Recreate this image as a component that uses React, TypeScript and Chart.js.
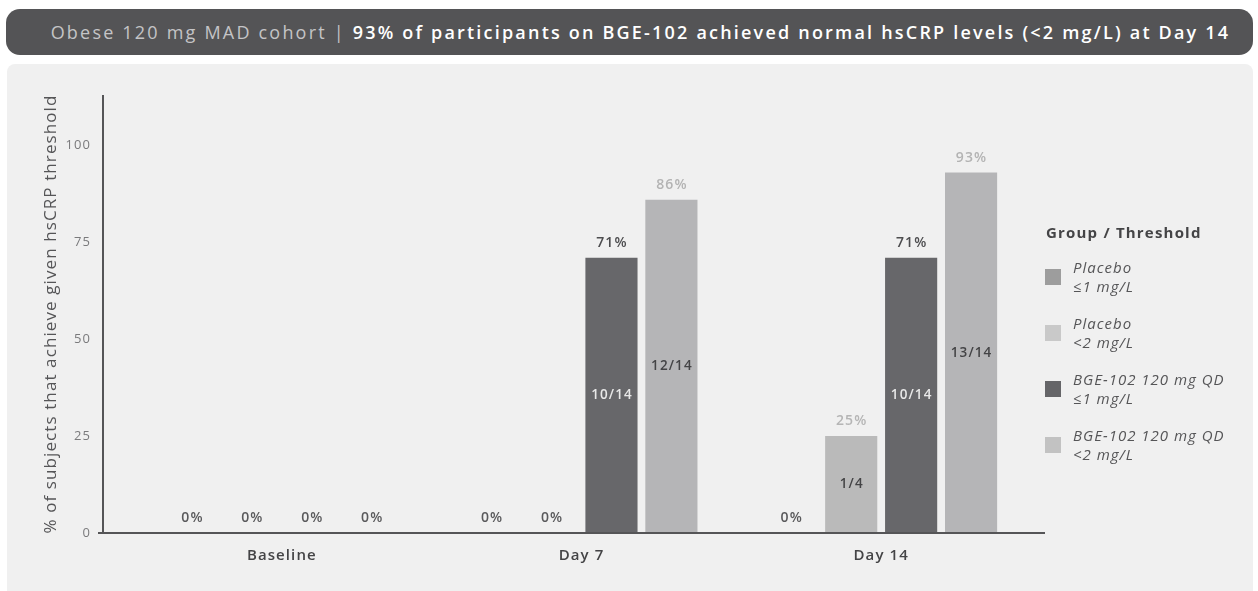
import React, { useEffect, useRef } from "react";
import { Chart, registerables } from "chart.js";

Chart.register(...registerables);

const categories = ["Baseline", "Day 7", "Day 14"];
const placeboLe1 = [0, 0, 0];
const placeboLt2 = [0, 0, 25];
const bgeLe1 = [0, 71, 71];
const bgeLt2 = [0, 86, 93];
const placeboLe1Frac = ["", "", ""];
const placeboLt2Frac = ["", "", "1/4"];
const bgeLe1Frac = ["", "10/14", "10/14"];
const bgeLt2Frac = ["", "12/14", "13/14"];
const seriesGroups = ["Placebo", "Placebo", "BGE-102 120 mg QD", "BGE-102 120 mg QD"];
const seriesThresholds = ["≤1 mg/L", "<2 mg/L", "≤1 mg/L", "<2 mg/L"];
const yTickValues = [0, 25, 50, 75, 100];

const FONT = "'Open Sans', 'Noto Sans', sans-serif";
const barColors = ["#9e9e9f", "#bababa", "#67676a", "#b5b5b7"];
const pctColors = ["#9e9e9f", "#b5b5b5", "#4d4d4f", "#b3b3b3"];
const fracColors = ["#444446", "#444446", "#e8e8e8", "#444446"];
const legendSwatch = ["#9d9d9d", "#c9c9c9", "#656568", "#c2c2c2"];

const overlayPlugin = {
  id: "overlay",
  beforeDraw(chart: any) {
    chart.ctx.letterSpacing = "1.1px";
  },
  afterDatasetsDraw(chart: any) {
    const { ctx, chartArea } = chart;
    const yScale = chart.scales.y;
    const y0 = yScale.getPixelForValue(0);
    ctx.save();
    ctx.strokeStyle = "#555557";
    ctx.lineWidth = 2;
    const ax = chartArea.left - 29;
    ctx.beginPath();
    ctx.moveTo(ax, chartArea.top);
    ctx.lineTo(ax, y0);
    ctx.moveTo(ax - 5, y0);
    ctx.lineTo(chartArea.right + 14, y0);
    ctx.stroke();

    ctx.textAlign = "center";
    ctx.textBaseline = "middle";
    chart.data.datasets.forEach((ds: any, di: number) => {
      const meta = chart.getDatasetMeta(di);
      meta.data.forEach((bar: any, i: number) => {
        const v = ds.data[i];
        ctx.font = `600 14px ${FONT}`;
        ctx.fillStyle = v === 0 ? "#59595b" : ds.pctColor;
        ctx.fillText(`${v}%`, bar.x + 0.5, bar.y - 15);
        const frac = ds.fractions[i];
        if (frac) {
          ctx.font = `600 13.5px ${FONT}`;
          ctx.fillStyle = ds.fracColor;
          ctx.fillText(frac, bar.x + 0.5, (bar.y + y0) / 2);
        }
      });
    });
    ctx.restore();
  },
};

export default function App() {
  const canvasRef = useRef<HTMLCanvasElement | null>(null);

  useEffect(() => {
    const canvas = canvasRef.current;
    if (!canvas) return;
    const seriesData = [placeboLe1, placeboLt2, bgeLe1, bgeLt2];
    const seriesFrac = [placeboLe1Frac, placeboLt2Frac, bgeLe1Frac, bgeLt2Frac];
    const chart = new Chart(canvas, {
      type: "bar",
      data: {
        labels: categories,
        datasets: seriesData.map((d, i) => ({
          label: `${seriesGroups[i]} ${seriesThresholds[i]}`,
          data: d,
          backgroundColor: barColors[i],
          borderWidth: 0,
          categoryPercentage: 0.8,
          barPercentage: 0.87,
          pctColor: pctColors[i],
          fracColor: fracColors[i],
          fractions: seriesFrac[i],
        })) as any,
      },
      options: {
        animation: false,
        responsive: false,
        devicePixelRatio: 1,
        layout: { padding: { top: 31, right: 227, left: 0, bottom: 0 } },
        plugins: { legend: { display: false }, tooltip: { enabled: false } },
        scales: {
          x: {
            offset: true,
            grid: { display: false },
            border: { display: false },
            ticks: { color: "#444446", font: { family: FONT, size: 15, weight: "600" as any }, padding: 6 },
            afterFit: (s: any) => {
              s.height = 58;
              s.paddingLeft = 0;
              s.paddingRight = 0;
            },
          },
          y: {
            min: 0,
            max: 113,
            grid: { display: false },
            border: { display: false },
            ticks: { stepSize: 25, padding: 33, color: "#7a7a7c", font: { family: FONT, size: 13 } },
            afterBuildTicks: (s: any) => {
              s.ticks = yTickValues.map((v) => ({ value: v }));
            },
            afterFit: (s: any) => {
              s.width = 132;
              s.paddingTop = 0;
              s.paddingBottom = 0;
            },
            title: {
              display: true,
              text: "% of subjects that achieve given hsCRP threshold",
              color: "#555557",
              font: { family: FONT, size: 17, weight: "500" as any },
              padding: { top: 41, bottom: 0 },
            },
          },
        },
      },
      plugins: [overlayPlugin],
    });
    return () => chart.destroy();
  }, []);

  return (
    <div style={{ position: "fixed", left: 0, top: 0, width: 1258, height: 591, background: "#ffffff", overflow: "hidden", fontFamily: FONT }}>
      <div
        style={{
          position: "absolute",
          left: 6,
          top: 9,
          width: 1247,
          height: 46,
          borderRadius: 14,
          background: "#545456",
          display: "flex",
          alignItems: "center",
          justifyContent: "center",
          paddingLeft: 22,
          boxSizing: "border-box",
          fontSize: 18,
          letterSpacing: 2.2,
          whiteSpace: "nowrap",
        }}
      >
        <span style={{ color: "#c4c4c6", fontWeight: 500 }}>Obese 120 mg MAD cohort |&nbsp;</span>
        <span style={{ color: "#ffffff", fontWeight: 600 }}>93% of participants on BGE-102 achieved normal hsCRP levels (&lt;2 mg/L) at Day 14</span>
      </div>
      <div style={{ position: "absolute", left: 7, top: 64, width: 1246, height: 540, borderRadius: 8, background: "#f0f0f0" }} />
      <canvas ref={canvasRef} width={1258} height={527} style={{ position: "absolute", left: 0, top: 64, width: 1258, height: 527 }} />
      <div style={{ position: "absolute", left: 1046, top: 222, fontSize: 15, fontWeight: 700, color: "#444446", letterSpacing: 1.2, whiteSpace: "nowrap" }}>
        Group / Threshold
      </div>
      {seriesGroups.map((g, i) => (
        <div key={i} style={{ position: "absolute", left: 1045, top: 257 + i * 56, height: 40, display: "flex", alignItems: "center" }}>
          <div style={{ width: 16, height: 16, background: legendSwatch[i], flex: "none" }} />
          <div style={{ marginLeft: 12, fontSize: 15, fontStyle: "italic", color: "#555557", lineHeight: "19px", letterSpacing: 1, whiteSpace: "nowrap" }}>
            <div>{g}</div>
            <div>{seriesThresholds[i]}</div>
          </div>
        </div>
      ))}
    </div>
  );
}
